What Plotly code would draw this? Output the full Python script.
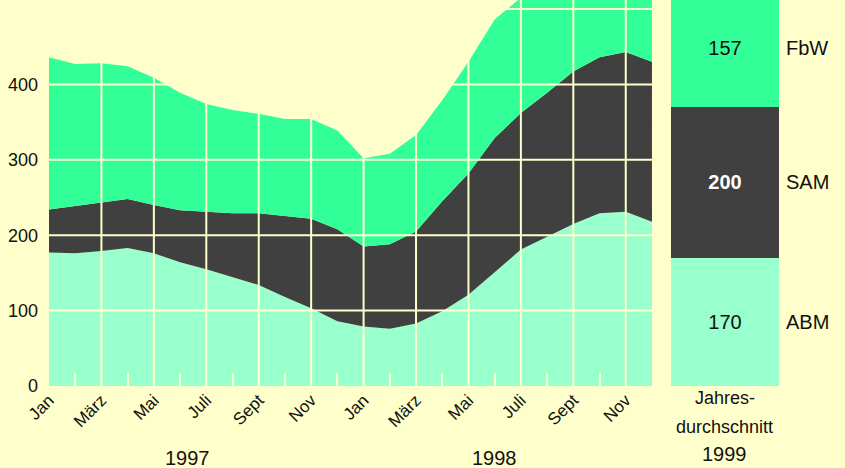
import plotly.graph_objects as go

# ---------------- data ----------------
months = ["Jan", "Feb", "März", "Apr", "Mai", "Juni", "Juli", "Aug", "Sept", "Okt", "Nov", "Dez"] * 2
month_idx = list(range(24))
label_idx = list(range(0, 24, 2))
label_text = [months[i] for i in label_idx]

abm = [177, 176, 179, 183, 176, 164, 155, 145, 134, 118, 103, 86,
       79, 76, 83, 99, 121, 151, 181, 198, 215, 229, 231, 218]
abm_sam = [234, 239, 244, 248, 240, 233, 231, 229, 229, 225, 222, 208,
           185, 188, 205, 245, 282, 329, 362, 389, 417, 436, 443, 430]
total = [436, 427, 428, 424, 409, 389, 374, 366, 361, 354, 354, 339,
         302, 308, 333, 379, 430, 486, 515, 540, 560, 575, 585, 575]
sam = [b - a for a, b in zip(abm, abm_sam)]
fbw = [c - b for b, c in zip(abm_sam, total)]

avg_labels = ["ABM", "SAM", "FbW"]
avg_values = [170, 200, 157]
year_labels = ["1997", "1998"]

# ---------------- style ----------------
BG = "#FFFFCC"
C_ABM = "#99FFCC"
C_SAM = "#404040"
C_FBW = "#33FF99"
FONT = "Liberation Sans, Arial, sans-serif"
TXT = "#111111"
YMAX = 512

fig = go.Figure()
for name, vals, col in [("ABM", abm, C_ABM), ("SAM", sam, C_SAM), ("FbW", fbw, C_FBW)]:
    fig.add_trace(go.Scatter(x=month_idx, y=vals, name=name, mode="lines",
                             stackgroup="one", line=dict(width=0, color=col),
                             fillcolor=col, showlegend=False))

bar_cols = [C_ABM, C_SAM, C_FBW]
bar_txt_col = [TXT, "#FFFFFF", TXT]
bar_txt_w = ["normal", "bold", "normal"]
for lab, v, c, tc, tw in zip(avg_labels, avg_values, bar_cols, bar_txt_col, bar_txt_w):
    fig.add_trace(go.Bar(x=[0], y=[v], name=lab, xaxis="x2", yaxis="y",
                         marker=dict(color=c, line=dict(width=0)), width=1,
                         text=[str(v)], textposition="inside", insidetextanchor="middle",
                         textfont=dict(color=tc, size=20, family=FONT, weight=tw),
                         showlegend=False))

# grid lines drawn above the areas
shapes = []
for xi in range(2, 23, 2):
    shapes.append(dict(type="line", xref="x", yref="y", x0=xi, x1=xi, y0=0, y1=YMAX,
                       line=dict(color=BG, width=2), layer="above"))
for yv in range(100, YMAX, 100):
    shapes.append(dict(type="line", xref="x", yref="y", x0=0, x1=23, y0=yv, y1=yv,
                       line=dict(color=BG, width=2), layer="above"))

annotations = []
cum = 0
for lab, v in zip(avg_labels, avg_values):
    annotations.append(dict(x=0.9523, xref="paper", y=cum + v / 2, yref="y", text=lab,
                            showarrow=False, font=dict(size=20, family=FONT, color=TXT),
                            xanchor="center", yanchor="middle"))
    cum += v
for txt, xp in zip(year_labels, [5.3, 17.0]):
    annotations.append(dict(x=xp, xref="x", y=-0.1865, yref="paper", text=txt, showarrow=False,
                            font=dict(size=20, family=FONT, color=TXT),
                            xanchor="center", yanchor="middle"))
annotations.append(dict(x=0.849, xref="paper", y=-0.0311, yref="paper", text="Jahres-",
                        showarrow=False, font=dict(size=18, family=FONT, color=TXT),
                        xanchor="center", yanchor="middle"))
annotations.append(dict(x=0.849, xref="paper", y=-0.1062, yref="paper", text="durchschnitt",
                        showarrow=False, font=dict(size=18, family=FONT, color=TXT),
                        xanchor="center", yanchor="middle"))
annotations.append(dict(x=0.849, xref="paper", y=-0.1762, yref="paper", text="1999",
                        showarrow=False, font=dict(size=20, family=FONT, color=TXT),
                        xanchor="center", yanchor="middle"))

fig.update_layout(
    width=845, height=468,
    margin=dict(l=49, r=0, t=0, b=82),
    paper_bgcolor=BG, plot_bgcolor=BG,
    barmode="stack",
    font=dict(family=FONT, color=TXT),
    shapes=shapes, annotations=annotations,
    xaxis=dict(domain=[0, 0.7575], range=[0, 23], tickmode="array",
               tickvals=label_idx, ticktext=label_text, tickangle=-45,
               tickfont=dict(size=17, family=FONT, color=TXT),
               showgrid=False, zeroline=False, showline=False, ticks="",
               layer="above traces",
               minor=dict(tickmode="array", tickvals=list(range(1, 23, 2)), ticks="inside",
                          ticklen=13, tickwidth=2, tickcolor=BG, showgrid=False)),
    xaxis2=dict(domain=[0.7814, 0.9171], range=[-0.5, 0.5], anchor="y",
                showticklabels=False, showgrid=False, zeroline=False, showline=False, ticks=""),
    yaxis=dict(range=[0, YMAX], tickmode="array", tickvals=[0, 100, 200, 300, 400],
               tickfont=dict(size=18, family=FONT, color=TXT),
               showgrid=False, zeroline=False, showline=False, ticks="",
               ticklabelstandoff=10),
)

fig.write_html("out.html", config={"displayModeBar": False},
               post_script="document.body.style.margin='0';document.body.style.background='#FFFFCC';")
